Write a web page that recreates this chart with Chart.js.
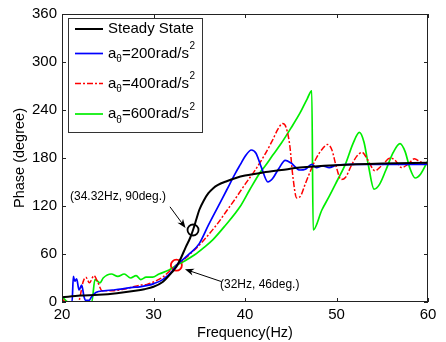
<!DOCTYPE html>
<html>
<head>
<meta charset="utf-8">
<script src="https://cdn.jsdelivr.net/npm/chart.js@4/dist/chart.umd.min.js"></script>
<style>
  html, body { margin: 0; padding: 0; background: #fff; }
  #wrap { width: 446px; height: 342px; }
</style>
</head>
<body>
<div id="wrap"><canvas id="phaseChart" width="446" height="342"></canvas></div>
<script>
// --- data ---
const xTicks = [20, 30, 40, 50, 60];
const yTicks = [0, 60, 120, 180, 240, 300, 360];

const steadyFreq  = [20, 22, 24, 26, 28, 29, 30, 31, 32, 32.5, 33, 33.5, 34, 34.32, 34.7, 35, 35.5, 36, 36.5, 37, 38, 39, 40, 42, 44, 46, 50, 55, 60];
const steadyPhase = [6, 8, 9, 11, 14, 16, 19, 25, 37, 44, 55, 68, 80, 90, 104, 115, 127, 136, 142, 146, 151, 155, 158, 162, 165, 168, 171, 173, 174];

const blueFreq  = [20, 21.1, 21.24, 21.4, 21.6, 21.86, 22.15, 22.4, 22.6, 22.96, 23.2, 23.7, 24.6, 25.5, 26.4, 27.5, 28.5, 29.5, 30.05, 31, 32, 32.5, 33, 34, 35, 36, 37, 38, 39, 39.5, 40, 40.7, 41.2, 41.8, 42.5, 43, 43.7, 44.4, 45, 46, 46.6, 47.3, 47.8, 48.5, 49.2, 50, 52, 55, 58, 60];
const bluePhase = [0, 0, 32, 26, 29, 15, 21, 7, 2, 2, 6, 12, 14, 15, 16, 18, 19, 21, 23, 28, 38, 46, 51, 61, 73, 96, 118, 140, 162, 172, 182, 190, 186, 168, 150, 154, 167, 177, 174, 165, 166, 172, 168, 170, 168, 171, 172, 172, 172, 172];

const redFreq  = [20, 20.4, 21.8, 22.0, 22.3, 22.6, 23.0, 23.5, 23.9, 24.4, 25.5, 26.7, 27.5, 28.5, 29.3, 30, 31, 31.8, 32.5, 33, 34, 35, 36, 37, 38, 39, 40, 41, 42, 43, 43.6, 44.1, 44.5, 44.9, 45.2, 45.65, 46.1, 46.6, 47.2, 47.8, 48.5, 49, 49.5, 50, 50.5, 51, 51.6, 52.2, 52.8, 53.4, 54.2, 54.9, 55.9, 56.5, 57.1, 57.8, 58.5, 59.2, 60];
const redPhase = [4, 0, 0, 8, 25, 31, 24, 33, 25, 14, 14, 16, 18, 21, 22, 25, 31, 39, 46, 50, 60, 71, 84, 98, 114, 130, 147, 163, 181, 202, 216, 223, 218, 195, 160, 130, 133, 148, 165, 180, 192, 197, 190, 168, 153, 156, 170, 182, 187, 178, 164, 170, 180, 176, 168, 172, 179, 175, 172];

const greenFreq  = [20, 20.7, 23.25, 23.6, 24.15, 24.5, 25.4, 26.1, 26.8, 27.5, 28.1, 28.6, 29.2, 29.9, 30.6, 31.7, 32.5, 33.5, 34.5, 35.5, 36.5, 37.8, 39.45, 40.5, 41.6, 42.2, 43, 44, 45, 46, 46.8, 47.3, 47.45, 48.4, 49.2, 50, 51, 51.8, 52.5, 53, 53.5, 54.1, 54.7, 55.4, 56.2, 56.94, 57.5, 58, 58.6, 59.2, 60];
const greenPhase = [7, 0, 0, 28, 24, 30, 35, 32, 35, 30, 33, 28, 31, 31, 35, 40, 46, 52, 59, 68, 78, 95, 119, 140, 161, 170, 183, 199, 217, 236, 254, 264, 90, 115, 132, 150, 173, 198, 212, 200, 170, 141, 147, 165, 187, 198, 188, 168, 155, 160, 177];

const markFreq  = [34.32, 32.5];
const markPhase = [90, 46];

const seriesLabels = ['Steady State', '200', '400', '600'];

// annotation text + arrows (data units)
const noteText  = ['(34.32Hz, 90deg.)', '(32Hz, 46deg.)'];
const noteAt    = [[20.87, 131.6], [37.27, 21.2]];
const arrowFrom = [[31.8, 119], [37.45, 25.4]];
const arrowTo   = [[33.5, 92.5], [33.44, 40.9]];

const pts = (xs, ys) => xs.map((x, i) => ({ x: x, y: ys[i] }));
const FONT = '"Liberation Sans", Arial, Helvetica, sans-serif';

const datasets = [
  { label: seriesLabels[0], data: pts(steadyFreq, steadyPhase), borderColor: '#000000', borderWidth: 2 },
  { label: seriesLabels[1], data: pts(blueFreq, bluePhase), borderColor: '#0000ff', borderWidth: 1.7 },
  { label: seriesLabels[2], data: pts(redFreq, redPhase), borderColor: '#ff0000', borderWidth: 1.5, borderDash: [6, 2, 2, 2] },
  { label: seriesLabels[3], data: pts(greenFreq, greenPhase), borderColor: '#00ee00', borderWidth: 1.7 },
  { label: 'm1', data: [{ x: markFreq[0], y: markPhase[0] }], showLine: false, pointRadius: 5.5, pointBorderWidth: 1.8, pointBorderColor: '#000', pointBackgroundColor: 'rgba(0,0,0,0)' },
  { label: 'm2', data: [{ x: markFreq[1], y: markPhase[1] }], showLine: false, pointRadius: 5.5, pointBorderWidth: 1.8, pointBorderColor: '#ff0000', pointBackgroundColor: 'rgba(0,0,0,0)' }
].map(d => Object.assign({ fill: false, tension: 0, pointRadius: 0, cubicInterpolationMode: 'monotone' }, d));

// --- box, inside ticks, notes and legend ---
const decor = {
  id: 'decor',
  afterDatasetsDraw(chart) {
    const ctx = chart.ctx;
    const a = chart.chartArea;
    const xs = chart.scales.x, ys = chart.scales.y;
    const px = (f, p) => [xs.getPixelForValue(f), ys.getPixelForValue(p)];
    ctx.save();

    // frame + inward ticks (MATLAB style)
    ctx.strokeStyle = '#222';
    ctx.lineWidth = 1;
    ctx.strokeRect(a.left + 0.5, a.top + 0.5, a.right - a.left - 1, a.bottom - a.top - 1);
    ctx.beginPath();
    xTicks.forEach(t => {
      const x = Math.round(xs.getPixelForValue(t)) + 0.5;
      ctx.moveTo(x, a.bottom); ctx.lineTo(x, a.bottom - 4);
      ctx.moveTo(x, a.top); ctx.lineTo(x, a.top + 4);
    });
    yTicks.forEach(t => {
      const y = Math.round(ys.getPixelForValue(t)) + 0.5;
      ctx.moveTo(a.left, y); ctx.lineTo(a.left + 4, y);
      ctx.moveTo(a.right, y); ctx.lineTo(a.right - 4, y);
    });
    ctx.stroke();

    // arrows
    ctx.fillStyle = '#000';
    ctx.strokeStyle = '#000';
    ctx.lineWidth = 1;
    arrowFrom.forEach((s, i) => {
      const [x0, y0] = px(s[0], s[1]);
      const [x1, y1] = px(arrowTo[i][0], arrowTo[i][1]);
      const ang = Math.atan2(y1 - y0, x1 - x0);
      const hl = 9, hw = 3.5;
      ctx.beginPath();
      ctx.moveTo(x0, y0);
      ctx.lineTo(x1 - Math.cos(ang) * hl * 0.7, y1 - Math.sin(ang) * hl * 0.7);
      ctx.stroke();
      ctx.beginPath();
      ctx.moveTo(x1, y1);
      ctx.lineTo(x1 - Math.cos(ang) * hl + Math.sin(ang) * hw, y1 - Math.sin(ang) * hl - Math.cos(ang) * hw);
      ctx.lineTo(x1 - Math.cos(ang) * hl * 0.7, y1 - Math.sin(ang) * hl * 0.7);
      ctx.lineTo(x1 - Math.cos(ang) * hl - Math.sin(ang) * hw, y1 - Math.sin(ang) * hl + Math.cos(ang) * hw);
      ctx.closePath();
      ctx.fill();
    });

    // notes
    ctx.font = '12px ' + FONT;
    ctx.textAlign = 'left';
    ctx.textBaseline = 'middle';
    noteText.forEach((t, i) => {
      const [x, y] = px(noteAt[i][0], noteAt[i][1]);
      ctx.fillText(t, x, y);
    });

    // legend
    const bx = a.left + 6, by = a.top + 4, bw = 134, bh = 114;
    ctx.fillStyle = '#fff';
    ctx.fillRect(bx, by, bw, bh);
    ctx.strokeStyle = '#333';
    ctx.strokeRect(bx + 0.5, by + 0.5, bw, bh);
    const rows = [11, 35.5, 65.5, 96];
    chart.data.datasets.slice(0, 4).forEach((d, i) => {
      const y = by + rows[i];
      ctx.strokeStyle = d.borderColor;
      ctx.lineWidth = d.borderWidth;
      ctx.setLineDash(d.borderDash || []);
      ctx.beginPath();
      ctx.moveTo(bx + 7, y); ctx.lineTo(bx + 35, y);
      ctx.stroke();
      ctx.setLineDash([]);
      ctx.fillStyle = '#000';
      ctx.textBaseline = 'middle';
      let x = bx + 40;
      if (i === 0) {
        ctx.font = '15px ' + FONT;
        ctx.fillText(d.label, x, y);
      } else {
        ctx.font = '15px ' + FONT;
        ctx.fillText('a', x, y); x += ctx.measureText('a').width;
        ctx.font = '10px ' + FONT;
        ctx.fillText('\u03b8', x, y + 6); x += ctx.measureText('\u03b8').width;
        ctx.font = '15px ' + FONT;
        const mid = '=' + d.label + 'rad/s';
        ctx.fillText(mid, x, y); x += ctx.measureText(mid).width;
        ctx.font = '10px ' + FONT;
        ctx.fillText('2', x + 0.5, y - 7);
      }
    });
    ctx.restore();
  }
};

new Chart(document.getElementById('phaseChart'), {
  type: 'line',
  data: { datasets: datasets },
  options: {
    responsive: false,
    animation: false,
    devicePixelRatio: 1,
    layout: { padding: { top: 14, right: 18, left: 0, bottom: 0 } },
    plugins: { legend: { display: false }, tooltip: { enabled: false } },
    scales: {
      x: {
        type: 'linear', min: 20, max: 60,
        afterBuildTicks: s => { s.ticks = xTicks.map(v => ({ value: v })); },
        afterFit: s => { s.height = 40; },
        grid: { display: false, drawTicks: false },
        border: { display: false },
        ticks: { color: '#000', padding: 4, font: { family: FONT, size: 15 } },
        title: { display: true, text: 'Frequency(Hz)', color: '#000', padding: { top: 3, bottom: 0 }, font: { family: FONT, size: 14.5 } }
      },
      y: {
        type: 'linear', min: 0, max: 360,
        afterBuildTicks: s => { s.ticks = yTicks.map(v => ({ value: v })); },
        afterFit: s => { s.width = 62; },
        grid: { display: false, drawTicks: false },
        border: { display: false },
        ticks: { color: '#000', padding: 5, font: { family: FONT, size: 15 } },
        title: { display: true, text: 'Phase (degree)', color: '#000', padding: { top: 11, bottom: 0 }, font: { family: FONT, size: 14.5 } }
      }
    }
  },
  plugins: [decor]
});
</script>
</body>
</html>
